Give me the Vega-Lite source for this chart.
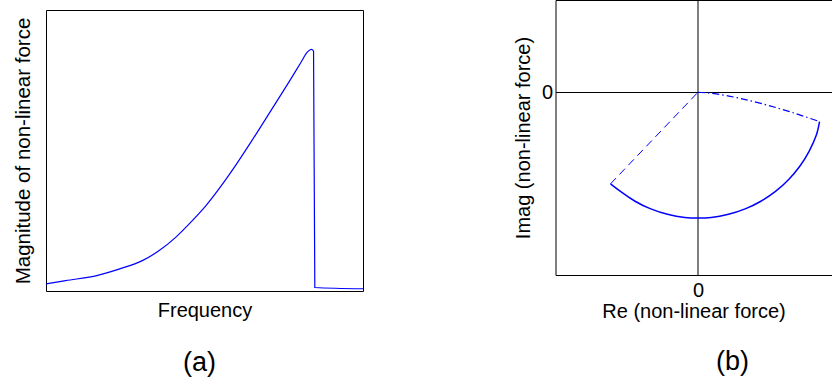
{
  "$schema": "https://vega.github.io/schema/vega-lite/v6.json",
  "background": "white",
  "padding": {"left": 12, "top": 0, "right": 0, "bottom": 0},
  "config": {
    "font": "Liberation Sans",
    "view": {"stroke": "black", "strokeWidth": 1},
    "axis": {
      "titleFontWeight": "normal",
      "titleFontSize": 20,
      "labelFontSize": 20,
      "titleColor": "black",
      "labelColor": "black",
      "domainColor": "black",
      "grid": false
    },
    "title": {"fontWeight": "normal", "color": "black", "fontSize": 27}
  },
  "spacing": 146.5,
  "hconcat": [
    {
      "spacing": 0,
      "vconcat": [
        {
          "width": 10,
          "height": 9,
          "view": {"stroke": null},
          "data": {"values": []},
          "mark": {"type": "rule"},
          "encoding": {}
        },
        {
          "width": 317,
          "height": 281,
          "title": {"text": "(a)", "orient": "bottom", "offset": 30, "dx": -5},
          "data": {
            "values": [
              {"i": 0, "f": 0.0, "m": 0.025},
              {"i": 1, "f": 0.062, "m": 0.037},
              {"i": 2, "f": 0.157, "m": 0.054},
              {"i": 3, "f": 0.23, "m": 0.078},
              {"i": 4, "f": 0.304, "m": 0.108},
              {"i": 5, "f": 0.356, "m": 0.143},
              {"i": 6, "f": 0.409, "m": 0.191},
              {"i": 7, "f": 0.451, "m": 0.238},
              {"i": 8, "f": 0.504, "m": 0.303},
              {"i": 9, "f": 0.583, "m": 0.422},
              {"i": 10, "f": 0.646, "m": 0.529},
              {"i": 11, "f": 0.709, "m": 0.641},
              {"i": 12, "f": 0.772, "m": 0.754},
              {"i": 13, "f": 0.804, "m": 0.813},
              {"i": 14, "f": 0.825, "m": 0.851},
              {"i": 15, "f": 0.837, "m": 0.86},
              {"i": 16, "f": 0.844, "m": 0.854},
              {"i": 17, "f": 0.848, "m": 0.0125},
              {"i": 18, "f": 1.0, "m": 0.008}
            ]
          },
          "mark": {"type": "line", "color": "#0000ff", "strokeWidth": 1.2, "interpolate": "monotone"},
          "encoding": {
            "x": {
              "field": "f",
              "type": "quantitative",
              "scale": {"domain": [0, 1], "nice": false, "zero": false},
              "axis": {"title": "Frequency", "labels": false, "ticks": false, "domain": false, "titlePadding": 9}
            },
            "y": {
              "field": "m",
              "type": "quantitative",
              "scale": {"domain": [0, 1], "nice": false, "zero": false},
              "axis": {"title": "Magnitude of non-linear force", "titleFontSize": 20.5, "labels": false, "ticks": false, "domain": false, "titlePadding": 13}
            },
            "order": {"field": "i", "type": "quantitative"}
          }
        }
      ]
    },
    {
      "width": 276,
      "height": 275,
      "view": {"stroke": null},
      "title": {"text": "(b)", "orient": "bottom", "offset": 28, "dx": 39},
      "data": {
        "values": [
          {"seg": "arc", "i": 0, "re": 0.966, "im": -0.233},
          {"seg": "arc", "i": 1, "re": 0.94, "im": -0.342},
          {"seg": "arc", "i": 2, "re": 0.883, "im": -0.469},
          {"seg": "arc", "i": 3, "re": 0.809, "im": -0.588},
          {"seg": "arc", "i": 4, "re": 0.719, "im": -0.695},
          {"seg": "arc", "i": 5, "re": 0.616, "im": -0.788},
          {"seg": "arc", "i": 6, "re": 0.5, "im": -0.866},
          {"seg": "arc", "i": 7, "re": 0.375, "im": -0.927},
          {"seg": "arc", "i": 8, "re": 0.242, "im": -0.97},
          {"seg": "arc", "i": 9, "re": 0.105, "im": -0.995},
          {"seg": "arc", "i": 10, "re": 0.0, "im": -1.0},
          {"seg": "arc", "i": 11, "re": -0.105, "im": -0.995},
          {"seg": "arc", "i": 12, "re": -0.242, "im": -0.97},
          {"seg": "arc", "i": 13, "re": -0.375, "im": -0.927},
          {"seg": "arc", "i": 14, "re": -0.5, "im": -0.866},
          {"seg": "arc", "i": 15, "re": -0.616, "im": -0.788},
          {"seg": "arc", "i": 16, "re": -0.695, "im": -0.728},
          {"seg": "radius", "i": 0, "re": -0.695, "im": -0.728},
          {"seg": "radius", "i": 1, "re": 0.0, "im": 0.0},
          {"seg": "top", "i": 0, "re": 0.0, "im": 0.0},
          {"seg": "top", "i": 1, "re": 0.146, "im": -0.013},
          {"seg": "top", "i": 2, "re": 0.331, "im": -0.048},
          {"seg": "top", "i": 3, "re": 0.516, "im": -0.093},
          {"seg": "top", "i": 4, "re": 0.728, "im": -0.154},
          {"seg": "top", "i": 5, "re": 0.966, "im": -0.233}
        ]
      },
      "encoding": {
        "x": {
          "field": "re",
          "type": "quantitative",
          "scale": {"domain": [-1.132, 1.061], "nice": false, "zero": false}
        },
        "y": {
          "field": "im",
          "type": "quantitative",
          "scale": {"domain": [-1.452, 0.733], "nice": false, "zero": false}
        },
        "order": {"field": "i", "type": "quantitative"}
      },
      "resolve": {"axis": {"x": "independent", "y": "independent"}},
      "layer": [
        {
          "transform": [{"filter": "datum.seg === 'arc'"}],
          "mark": {"type": "line", "color": "#0000ff", "strokeWidth": 1.5, "interpolate": "natural"},
          "encoding": {
            "x": {
              "field": "re",
              "type": "quantitative",
              "axis": {
                "title": "Re (non-linear force)",
                "values": [0],
                "format": "d",
                "grid": true,
                "gridColor": "black",
                "gridOpacity": 1,
                "gridWidth": 1,
                "ticks": false,
                "labelPadding": 5,
                "titlePadding": 1
              }
            },
            "y": {
              "field": "im",
              "type": "quantitative",
              "axis": {
                "title": "Imag (non-linear force)",
                "values": [0],
                "format": "d",
                "grid": true,
                "gridColor": "black",
                "gridOpacity": 1,
                "gridWidth": 1,
                "ticks": false,
                "labelPadding": 3,
                "titlePadding": 8
              }
            }
          }
        },
        {
          "transform": [{"filter": "datum.seg === 'radius'"}],
          "mark": {"type": "line", "color": "#0000ff", "strokeWidth": 1, "strokeDash": [8, 5]},
          "encoding": {
            "x": {
              "field": "re",
              "type": "quantitative",
              "axis": {"orient": "top", "title": null, "labels": false, "ticks": false, "grid": false, "domain": true}
            },
            "y": {
              "field": "im",
              "type": "quantitative",
              "axis": null
            }
          }
        },
        {
          "transform": [{"filter": "datum.seg === 'top'"}],
          "mark": {"type": "line", "color": "#0000ff", "strokeWidth": 1.2, "strokeDash": [7, 3, 1.5, 3], "interpolate": "natural"},
          "encoding": {
            "x": {"field": "re", "type": "quantitative", "axis": null},
            "y": {"field": "im", "type": "quantitative", "axis": null}
          }
        }
      ]
    }
  ]
}
